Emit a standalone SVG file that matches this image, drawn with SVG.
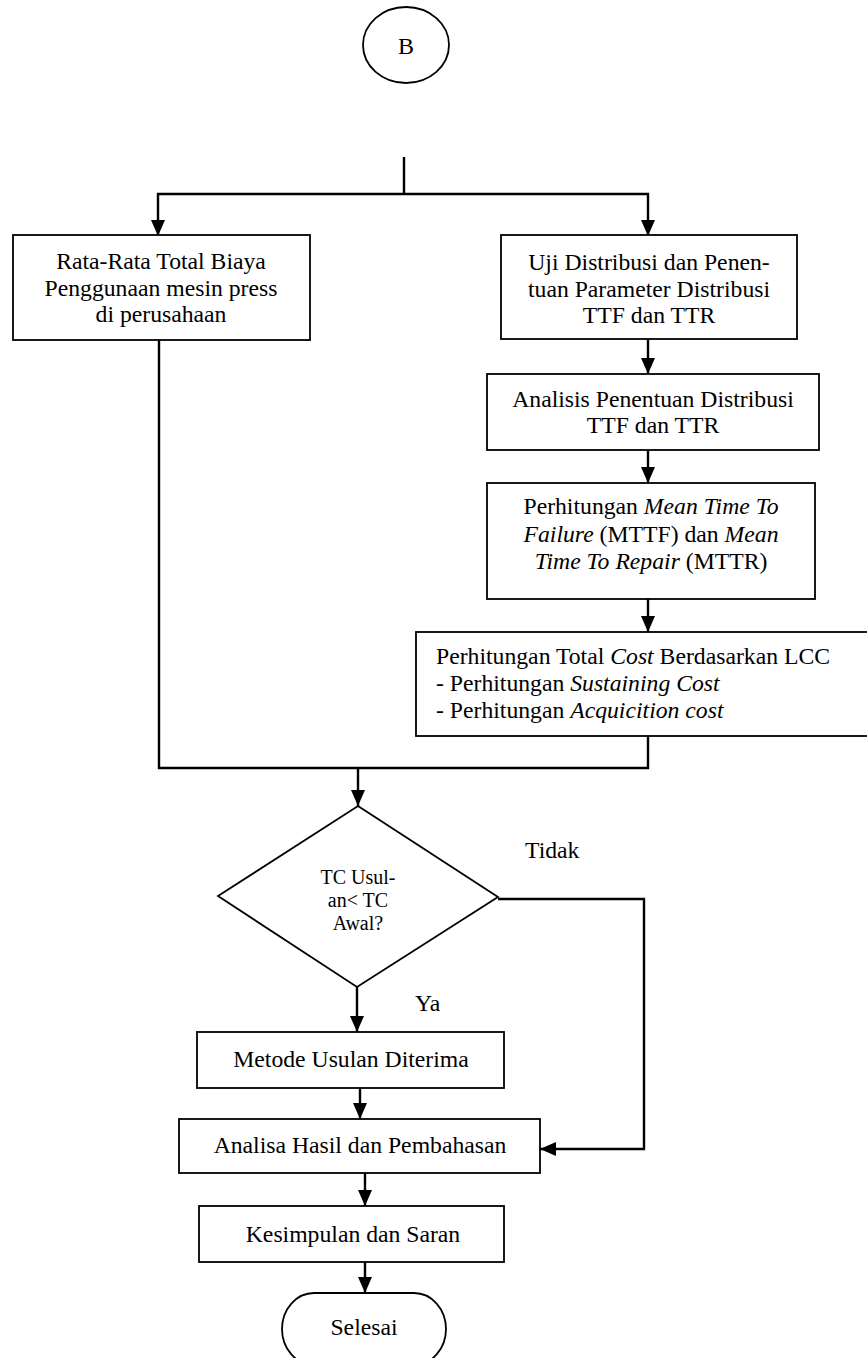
<svg xmlns="http://www.w3.org/2000/svg" width="867" height="1358" viewBox="0 0 867 1358" font-family="'Liberation Serif', 'Times New Roman', 'DejaVu Serif', serif">
<style>
.bg{fill:#fff}
.box{fill:#fff;stroke:#000;stroke-width:1.8}
.con{fill:none;stroke:#000;stroke-width:2.4}
.arr{fill:none;stroke:#000;stroke-width:2.4;marker-end:url(#ah)}
text{font-family:'Liberation Serif','Times New Roman','DejaVu Serif',serif;font-size:23.7px;fill:#000}
.c{text-anchor:middle}
.sm{font-size:20px}
.i{font-style:italic}
</style>
<defs>
<marker id="ah" markerUnits="userSpaceOnUse" markerWidth="16" markerHeight="16" viewBox="0 0 16 16" refX="16" refY="8" orient="auto">
<path d="M0,1 L16,8 L0,15 z" fill="#000"/>
</marker>
</defs>
<rect class="bg" x="0" y="0" width="867" height="1358"/>

<g id="connectors">
<path class="con" d="M404,157 V194"/>
<path class="arr" d="M404,194 H158 V236"/>
<path class="arr" d="M404,194 H648 V236"/>
<path class="arr" d="M648,339 V374"/>
<path class="arr" d="M648,450 V483"/>
<path class="arr" d="M648,599 V632"/>
<path class="con" d="M159,340 V768 H648 V736"/>
<path class="arr" d="M358,768 V806"/>
<path class="arr" d="M498,899 H644 V1149 H540"/>
<path class="arr" d="M357,987 V1032"/>
<path class="arr" d="M360,1088 V1119"/>
<path class="arr" d="M365,1173 V1206"/>
<path class="arr" d="M365,1262 V1293"/>
</g>

<g id="start">
<ellipse class="box" cx="406" cy="45" rx="43" ry="38"/>
<text class="c" x="406" y="54" style="font-size:24px">B</text>
</g>

<g id="n-rata">
<rect class="box" x="13" y="235" width="297" height="105"/>
<text class="c" x="161" y="269">Rata-Rata Total Biaya</text>
<text class="c" x="161" y="296">Penggunaan mesin press</text>
<text class="c" x="161" y="322">di perusahaan</text>
</g>

<g id="n-uji">
<rect class="box" x="501" y="235" width="296" height="104"/>
<text class="c" x="649" y="270">Uji Distribusi dan Penen-</text>
<text class="c" x="649" y="297">tuan Parameter Distribusi</text>
<text class="c" x="649" y="323">TTF dan TTR</text>
</g>

<g id="n-analisis">
<rect class="box" x="487" y="374" width="332" height="76"/>
<text class="c" x="653" y="407">Analisis Penentuan Distribusi</text>
<text class="c" x="653" y="433">TTF dan TTR</text>
</g>

<g id="n-mttf">
<rect class="box" x="487" y="483" width="328" height="116"/>
<text class="c" x="651" y="514">Perhitungan <tspan class="i">Mean Time To</tspan></text>
<text class="c" x="651" y="542"><tspan class="i">Failure</tspan> (MTTF) dan <tspan class="i">Mean</tspan></text>
<text class="c" x="651" y="569"><tspan class="i">Time To Repair</tspan> (MTTR)</text>
</g>

<g id="n-lcc">
<rect class="box" x="416" y="632" width="460" height="104"/>
<text x="436" y="664">Perhitungan Total <tspan class="i">Cost</tspan> Berdasarkan LCC</text>
<text x="436" y="691">- Perhitungan <tspan class="i">Sustaining Cost</tspan></text>
<text x="436" y="718">- Perhitungan <tspan class="i">Acquicition cost</tspan></text>
</g>

<g id="n-decision">
<polygon class="box" points="358,806 498,897 357,987 218,896"/>
<text class="c sm" x="358" y="884">TC Usul-</text>
<text class="c sm" x="358" y="907">an&lt; TC</text>
<text class="c sm" x="358" y="930">Awal?</text>
</g>

<g id="labels">
<text x="525" y="858">Tidak</text>
<text x="415" y="1011">Ya</text>
</g>

<g id="n-metode">
<rect class="box" x="197" y="1032" width="307" height="56"/>
<text class="c" x="351" y="1067">Metode Usulan Diterima</text>
</g>

<g id="n-hasil">
<rect class="box" x="179" y="1119" width="361" height="54"/>
<text class="c" x="360" y="1153">Analisa Hasil dan Pembahasan</text>
</g>

<g id="n-kesimpulan">
<rect class="box" x="199" y="1206" width="305" height="56"/>
<text class="c" x="353" y="1242">Kesimpulan dan Saran</text>
</g>

<g id="n-selesai">
<rect class="box" x="282" y="1293" width="164" height="72" rx="32" ry="36"/>
<text class="c" x="364" y="1335">Selesai</text>
</g>
</svg>
